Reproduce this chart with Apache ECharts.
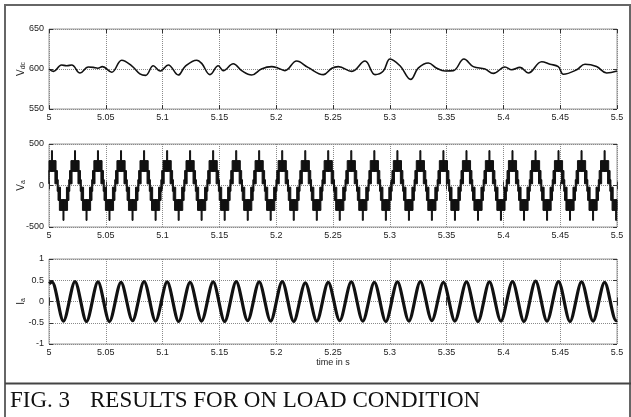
<!DOCTYPE html>
<html><head><meta charset="utf-8">
<script src="https://cdn.jsdelivr.net/npm/echarts@6/dist/echarts.min.js"></script>
<style>html,body{margin:0;padding:0;background:#fff}#c{width:631px;height:417px}</style>
</head><body><div id="c"></div>
<script>
// ---- x axis (time in s) ----
const timeMin = 5, timeMax = 5.5, timeStep = 0.05;

// ---- Panel 1: DC link voltage Vdc (V) ----
const vdcTimes = [5.000,5.004,5.011,5.0156,5.020,5.0273,5.0346,5.039,5.043,5.047,5.0552,5.064,5.0728,5.080,5.085,5.0918,5.0977,5.105,5.1138,5.1197,5.130,5.1344,5.1417,5.149,5.1534,5.1622,5.1696,5.1784,5.187,5.196,5.2018,5.2077,5.218,5.228,5.2415,5.2490,5.2547,5.2665,5.2782,5.287,5.2943,5.3002,5.309,5.3184,5.325,5.3339,5.3413,5.3486,5.356,5.3653,5.3735,5.3838,5.3911,5.4014,5.4073,5.4146,5.4219,5.4337,5.441,5.4483,5.4528,5.4645,5.4718,5.482,5.4909,5.500];
const vdcValues = [600,597,605,604,605,595,602.5,602,601,603,596,611,604,594,592,604,597.5,605,592.5,603,611,607,593,604,598,606.6,598,592.5,600,603,601,598,610,602,593,601,603,597,610,593,597.5,612.5,604,587,601,607.5,601,597.5,598,612.5,603,600,594.5,602.5,599,602,595,609,606,603,593.5,599,606,603,595,597.5];
const vdcTicks = {min: 550, max: 650, step: 50};

// ---- Panel 2: phase voltage Va (V), multilevel inverter output ----
// times of the positive peaks
const vaPeakTimes = [5.0026,5.0229,5.0431,5.0634,5.0837,5.1040,5.1242,5.1445,5.1648,5.1850,5.2053,5.2256,5.2458,5.2661,5.2864,5.3067,5.3269,5.3472,5.3675,5.3877,5.4080,5.4283,5.4485,5.4688,5.4891];
// switching bands of one period read from a cycle: start / end (ms from the peak), band bottom, band top (V)
const vaBandStartMs = [-5.54,-4.8,-3.6,-0.45, 2.6, 4.6, 5.34, 6.54, 9.69,12.74];
const vaBandEndMs   = [-4.6,-2.6, 3.6, 0.45, 4.8, 5.54, 7.54,13.74,10.59,14.94];
const vaBandLower   = [-70, 20, 170, 170, 20,-70,-180,-300,-420,-180];
const vaBandUpper   = [ 70,180, 300, 420,180, 70, -20,-170,-170, -20];
const vaTicks = {min: -500, max: 500, step: 500};

// ---- Panel 3: phase current Ia (A) ----
const iaTimes = [5.0000,5.0026,5.0127,5.0229,5.0330,5.0431,5.0532,5.0634,5.0735,5.0837,5.0938,5.1040,5.1141,5.1242,5.1343,5.1445,5.1546,5.1648,5.1749,5.1850,5.1951,5.2053,5.2154,5.2256,5.2357,5.2458,5.2559,5.2661,5.2762,5.2864,5.2965,5.3067,5.3168,5.3269,5.3370,5.3472,5.3573,5.3675,5.3776,5.3877,5.3978,5.4080,5.4181,5.4283,5.4384,5.4485,5.4586,5.4688,5.4789,5.4891,5.4992,5.5000];
const iaValues = [0.42,0.46,-0.46,0.47,-0.47,0.46,-0.47,0.45,-0.45,0.47,-0.46,0.46,-0.47,0.45,-0.46,0.46,-0.47,0.47,-0.45,0.46,-0.46,0.47,-0.47,0.44,-0.46,0.45,-0.45,0.46,-0.46,0.45,-0.47,0.46,-0.46,0.47,-0.45,0.45,-0.46,0.46,-0.47,0.46,-0.46,0.47,-0.47,0.48,-0.46,0.47,-0.47,0.46,-0.46,0.45,-0.45,-0.44];
const iaTicks = {min: -1, max: 1, step: 0.5};

// ---- build tables ----
const vdcData = vdcTimes.map((t, i) => [t, vdcValues[i]]);
const iaData = iaTimes.map((t, i) => [t, iaValues[i]]);
const vaBands = []; // [tStart, tEnd, lower, upper]
vaPeakTimes.forEach(tp => {
  vaBandStartMs.forEach((s, j) => {
    vaBands.push([tp + s / 1000, tp + vaBandEndMs[j] / 1000, vaBandLower[j], vaBandUpper[j]]);
  });
});

const FONT = 'Liberation Sans';
const grids = [
  {left: 49, right: 14, top: 29, height: 80},
  {left: 49, right: 14, top: 144, height: 83},
  {left: 49, right: 14, top: 259, height: 85}
].map(g => Object.assign(g, {show: true, borderColor: '#9a9a9a', borderWidth: 1, backgroundColor: 'transparent',
  containLabel: false, outerBoundsMode: 'none'}));

function xAx(i, pos, extra) {
  return Object.assign({
    type: 'value', gridIndex: i, position: pos, min: timeMin, max: timeMax, interval: timeStep,
    axisLine: {show: false},
    axisTick: {show: true, inside: true, length: 4, lineStyle: {color: '#333', width: 1}},
    axisLabel: {show: pos === 'bottom', fontSize: 9, color: '#222', margin: 4, fontFamily: FONT},
    splitLine: {show: pos === 'bottom', lineStyle: {type: 'dotted', color: '#8a8a8a', width: 1}}
  }, extra || {});
}
function yAx(i, pos, tk, name) {
  return {
    type: 'value', gridIndex: i, position: pos, min: tk.min, max: tk.max, interval: tk.step,
    axisLine: {show: false},
    axisTick: {show: true, inside: true, length: 4, lineStyle: {color: '#333', width: 1}},
    axisLabel: {show: pos === 'left', fontSize: 9, color: '#222', margin: 5, fontFamily: FONT},
    splitLine: {show: pos === 'left', lineStyle: {type: 'dotted', color: '#8a8a8a', width: 1}},
    name: pos === 'left' ? name : '',
    nameLocation: 'middle', nameRotate: 90, nameGap: 22, nameMoveOverlap: false,
    nameTextStyle: {fontFamily: FONT, color: '#222', rich: {
      v: {fontSize: 10, fontFamily: FONT, color: '#222'},
      s: {fontSize: 7, fontFamily: FONT, color: '#222', padding: [4, 0, 0, 0]}
    }}
  };
}

const option = {
  animation: false,
  backgroundColor: '#fff',
  grid: grids,
  xAxis: [
    xAx(0, 'bottom'), xAx(0, 'top'),
    xAx(1, 'bottom'), xAx(1, 'top'),
    xAx(2, 'bottom', {name: 'time in s', nameLocation: 'middle', nameGap: 14, nameMoveOverlap: false,
      nameTextStyle: {fontFamily: FONT, fontSize: 9, color: '#222'}}), xAx(2, 'top')
  ],
  yAxis: [
    yAx(0, 'left', vdcTicks, '{v|V}{s|dc}'), yAx(0, 'right', vdcTicks, ''),
    yAx(1, 'left', vaTicks, '{v|V}{s|a}'), yAx(1, 'right', vaTicks, ''),
    yAx(2, 'left', iaTicks, '{v|I}{s|a}'), yAx(2, 'right', iaTicks, '')
  ],
  series: [
    {type: 'line', xAxisIndex: 0, yAxisIndex: 0, data: vdcData, smooth: 0.4, symbol: 'none',
      lineStyle: {color: '#111', width: 1.6}},
    {type: 'custom', xAxisIndex: 2, yAxisIndex: 2, data: vaBands,
      encode: {x: [0, 1], y: [2, 3]},
      renderItem: function (params, api) {
        const p1 = api.coord([api.value(0), api.value(3)]);
        const p2 = api.coord([api.value(1), api.value(2)]);
        const cs = params.coordSys;
        const r = echarts.graphic.clipRectByRect(
          {x: p1[0], y: p1[1], width: p2[0] - p1[0], height: p2[1] - p1[1]},
          {x: cs.x, y: cs.y, width: cs.width, height: cs.height});
        return r && {type: 'rect', shape: r, style: {fill: '#111', stroke: '#111', lineWidth: 1}};
      }},
    {type: 'line', xAxisIndex: 4, yAxisIndex: 4, data: iaData, smooth: 0.3, symbol: 'none',
      lineStyle: {color: '#111', width: 3.2}}
  ],
  graphic: [
    {type: 'rect', shape: {x: 5, y: 5, width: 625, height: 430}, style: {fill: 'none', stroke: '#666', lineWidth: 2}, silent: true},
    {type: 'line', shape: {x1: 5, y1: 383.5, x2: 631, y2: 383.5}, style: {stroke: '#444', lineWidth: 2}, silent: true},
    {type: 'text', left: 10, top: 389, style: {text: 'FIG. 3', font: '23px "Liberation Serif"', fill: '#111'}},
    {type: 'text', left: 90, top: 389, style: {text: 'RESULTS FOR ON LOAD CONDITION', font: '23px "Liberation Serif"', fill: '#111'}}
  ]
};
const chart = echarts.init(document.getElementById('c'), null, {renderer: 'canvas'});
chart.setOption(option);
</script>
</body></html>
